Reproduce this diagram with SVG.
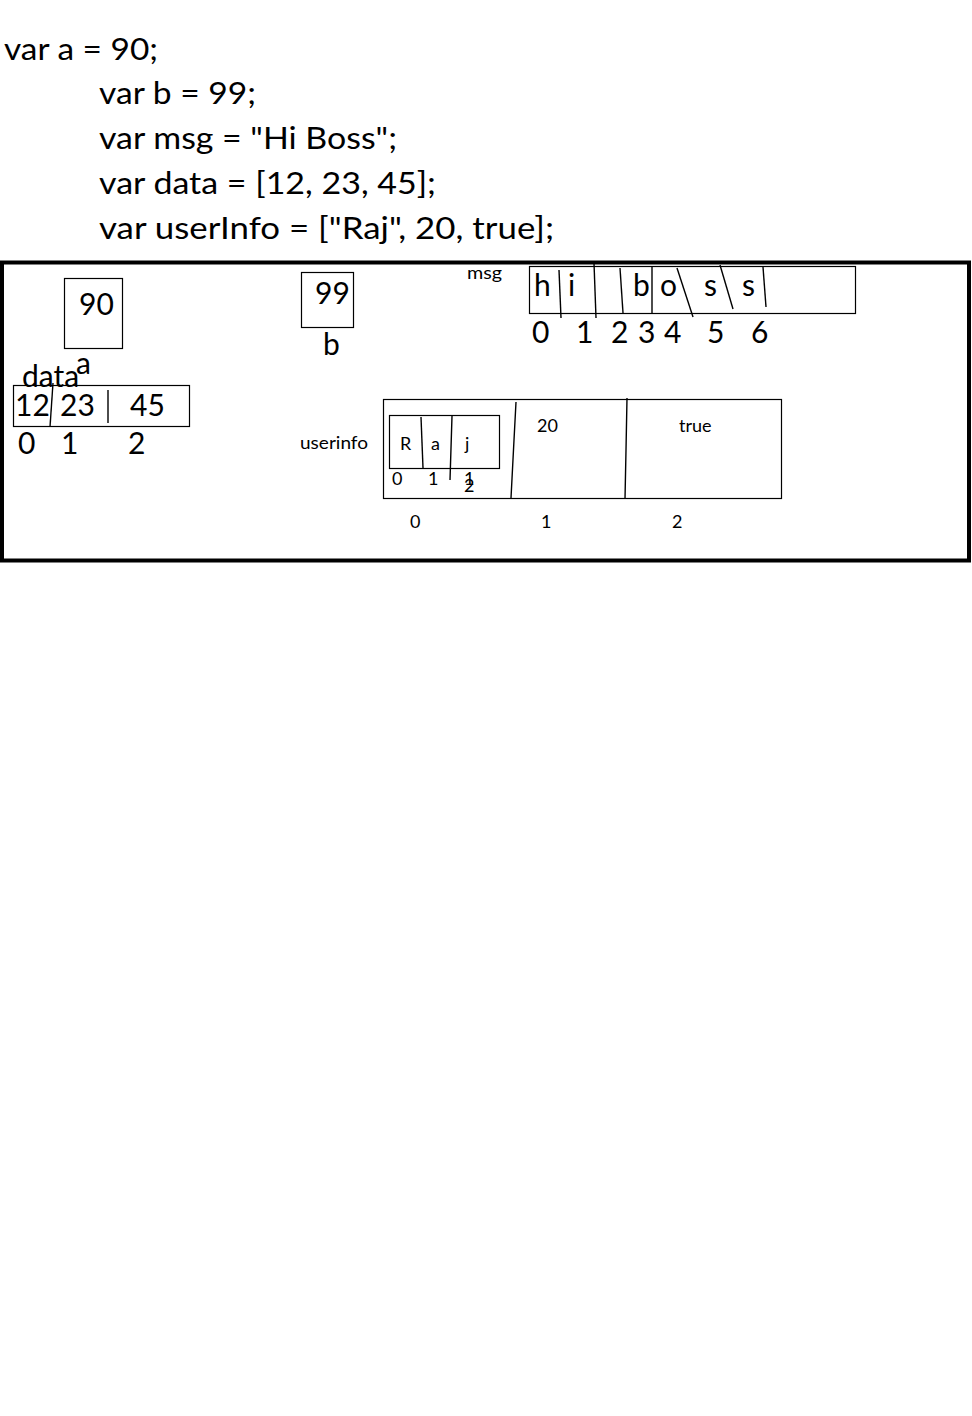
<svg xmlns="http://www.w3.org/2000/svg" width="972" height="1416" viewBox="0 0 972 1416">
<style>
text{font-family:Lato,"Open Sans","Liberation Sans",sans-serif;fill:#000}
.code{font-size:31px}
.big{font-size:30px}
.sm{font-size:18px}
.box{fill:none;stroke:#000;stroke-width:1.2}
.div{fill:none;stroke:#000;stroke-width:1.4}
</style>
<rect width="972" height="1416" fill="#fff"/>
<g id="code">
<text class="code" x="4" y="60" textLength="154" lengthAdjust="spacingAndGlyphs">var a = 90;</text>
<text class="code" x="99" y="104" textLength="157" lengthAdjust="spacingAndGlyphs">var b = 99;</text>
<text class="code" x="99" y="149" textLength="298" lengthAdjust="spacingAndGlyphs">var msg = "Hi Boss";</text>
<text class="code" x="99" y="194" textLength="337" lengthAdjust="spacingAndGlyphs">var data = [12, 23, 45];</text>
<text class="code" x="99" y="239" textLength="455" lengthAdjust="spacingAndGlyphs">var userInfo = ["Raj", 20, true];</text>
</g>
<g id="frame"><rect x="2" y="262.5" width="967" height="298" fill="none" stroke="#000" stroke-width="4"/></g>
<g id="var-a">
<rect class="box" x="64.5" y="278.5" width="58" height="70"/>
<text class="big" x="79" y="315">90</text>
<text class="big" x="76" y="374">a</text>
</g>
<g id="var-b">
<rect class="box" x="301.5" y="272.5" width="52" height="55"/>
<text class="big" x="315" y="304">99</text>
<text class="big" x="323" y="355">b</text>
</g>
<g id="var-data">
<text class="big" x="22" y="387">data</text>
<rect class="box" x="13.5" y="385.5" width="176" height="41"/>
<text class="big" x="15" y="416">12</text>
<text class="big" x="60" y="416">23</text>
<text class="big" x="130" y="416">45</text>
<text class="big" x="18" y="454">0</text>
<text class="big" x="61" y="454">1</text>
<text class="big" x="128" y="454">2</text>
</g>
<g id="var-msg">
<text class="sm" x="467" y="279" textLength="35" lengthAdjust="spacingAndGlyphs">msg</text>
<rect class="box" x="529.5" y="266.5" width="326" height="47"/>
<text class="big" x="534" y="296">h</text>
<text class="big" x="568" y="296">i</text>
<text class="big" x="633" y="296">b</text>
<text class="big" x="660" y="296">o</text>
<text class="big" x="704" y="296">s</text>
<text class="big" x="742" y="296">s</text>
<text class="big" x="532" y="343">0</text>
<text class="big" x="576" y="343">1</text>
<text class="big" x="611" y="343">2</text>
<text class="big" x="638" y="343">3</text>
<text class="big" x="664" y="343">4</text>
<text class="big" x="707" y="343">5</text>
<text class="big" x="751" y="343">6</text>
</g>
<g id="var-userinfo">
<text class="sm" x="300" y="449" textLength="68" lengthAdjust="spacingAndGlyphs">userinfo</text>
<rect class="box" x="383.5" y="399.5" width="398" height="99"/>
<rect class="box" x="389.5" y="415.5" width="110" height="53"/>
<text class="sm" x="400" y="450">R</text>
<text class="sm" x="431" y="450">a</text>
<text class="sm" x="465" y="450">j</text>
<text class="sm" x="392" y="485">0</text>
<text class="sm" x="428" y="485">1</text>
<text class="sm" x="464" y="485">1</text>
<text class="sm" x="464" y="492">2</text>
<text class="sm" x="537" y="432">20</text>
<text class="sm" x="679" y="432">true</text>
<text class="sm" x="410" y="528">0</text>
<text class="sm" x="541" y="528">1</text>
<text class="sm" x="672" y="528">2</text>
</g>
<g id="connectors">
<path class="div" d="M53,383 L50,427"/>
<path class="div" d="M108,390 L108,423"/>
<path class="div" d="M559,270 L561,318"/>
<path class="div" d="M594,263 L596,318"/>
<path class="div" d="M620,268 L623,313"/>
<path class="div" d="M652,267 L652,313"/>
<path class="div" d="M677,268 L693,317"/>
<path class="div" d="M720,265 L733,309"/>
<path class="div" d="M763,267 L766,307"/>
<path class="div" d="M421,417 L423,468"/>
<path class="div" d="M452,416 L450,480"/>
<path class="div" d="M516,402 L514,440 L511,498"/>
<path class="div" d="M627,398 L626,450 L625,499"/>
</g>
</svg>
